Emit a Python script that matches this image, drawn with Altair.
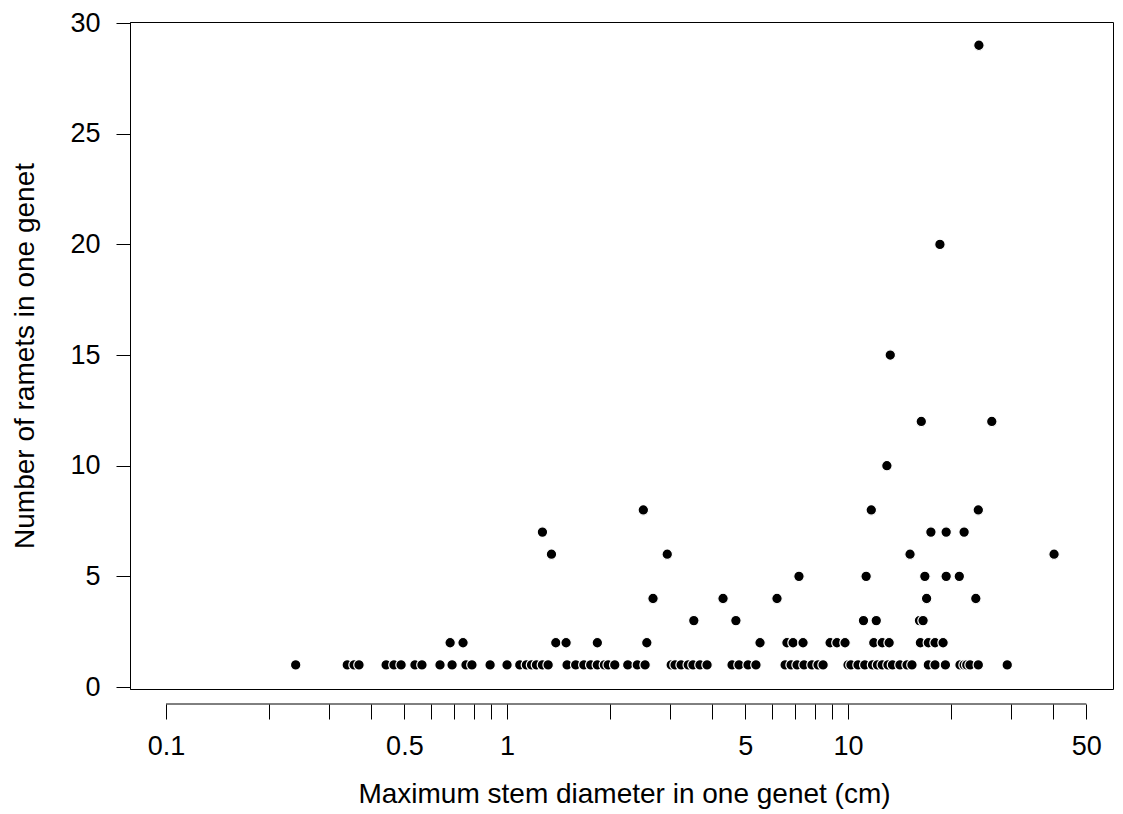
import altair as alt
import pandas as pd

# Maximum stem diameter (cm) of genets, grouped by number of ramets in the genet
diam_1_ramet = [0.24, 0.34, 0.356, 0.368, 0.442, 0.466, 0.489, 0.537, 0.563, 0.636,
                0.69, 0.758, 0.789, 0.892, 1.0, 1.09, 1.14, 1.18, 1.22, 1.27, 1.32,
                1.50, 1.59, 1.68, 1.76, 1.84, 1.93, 1.98, 2.07, 2.26, 2.41, 2.54,
                3.03, 3.11, 3.24, 3.40, 3.51, 3.68, 3.86, 4.57, 4.79, 5.09, 5.37,
                6.54, 6.81, 7.09, 7.43, 7.84, 8.17, 8.45, 10.0, 10.2, 10.7, 11.2,
                11.8, 12.2, 12.6, 13.1, 13.5, 14.2, 14.9, 15.4, 17.2, 18.0, 19.3,
                21.3, 21.9, 22.3, 22.8, 24.1, 29.3]
diam_2_ramets = [0.681, 0.743, 1.39, 1.49, 1.84, 2.57, 5.52, 6.62, 6.90, 7.38, 8.86,
                 9.28, 9.80, 11.9, 12.6, 13.2, 16.3, 17.2, 18.0, 19.0]
diam_3_ramets = [3.53, 4.69, 11.1, 12.1, 16.2, 16.6]
diam_4_ramets = [2.68, 4.30, 6.19, 17.0, 23.7]
diam_5_ramets = [7.18, 11.3, 16.8, 19.4, 21.2]
diam_6_ramets = [1.35, 2.95, 15.2, 40.2]
diam_7_ramets = [1.27, 17.5, 19.4, 21.9]
diam_8_ramets = [2.51, 11.7, 24.1]
diam_10_ramets = [13.0]
diam_12_ramets = [16.4, 26.4]
diam_15_ramets = [13.3]
diam_20_ramets = [18.6]
diam_29_ramets = [24.2]

groups = {1: diam_1_ramet, 2: diam_2_ramets, 3: diam_3_ramets, 4: diam_4_ramets,
          5: diam_5_ramets, 6: diam_6_ramets, 7: diam_7_ramets, 8: diam_8_ramets,
          10: diam_10_ramets, 12: diam_12_ramets, 15: diam_15_ramets,
          20: diam_20_ramets, 29: diam_29_ramets}

rows = []
for n, ds in groups.items():
    for d in ds:
        rows.append({"diameter": d, "ramets": n})
df = pd.DataFrame(rows)

x_tick_values = [0.1, 0.2, 0.3, 0.4, 0.5, 0.6, 0.7, 0.8, 0.9,
                 1, 2, 3, 4, 5, 6, 7, 8, 9, 10, 20, 30, 40, 50]
x_labelled = [0.1, 0.5, 1, 5, 10, 50]
y_tick_values = [0, 5, 10, 15, 20, 25, 30]

FONT = "Liberation Sans"
W, H = 983, 667

xscale = alt.Scale(type="log", domain=[0.0784, 59.85], nice=False)
yscale = alt.Scale(domain=[-0.09, 30.05], nice=False, zero=False)

points = alt.Chart(df).mark_point(
    shape="circle", filled=True, fill="black", stroke="white",
    strokeWidth=1.2, size=110, opacity=1
).encode(
    x=alt.X("diameter:Q", scale=xscale,
            axis=alt.Axis(
                values=x_tick_values,
                labelExpr="indexof([0.1, 0.5, 1, 5, 10, 50], datum.value) >= 0 ? format(datum.value, '~g') : ''",
                labelOverlap=False, labelFlush=False,
                domain=False, offset=15, tickSize=15, tickColor="black",
                tickWidth=1, labelPadding=14, labelFontSize=27, labelFont=FONT,
                labelColor="black", grid=False,
                title="Maximum stem diameter in one genet (cm)",
                titleFontSize=28, titleFont=FONT, titleFontWeight="normal",
                titleColor="black", titleBaseline="alphabetic", titleY=98,
                titleX=494)),
    y=alt.Y("ramets:Q", scale=yscale,
            axis=alt.Axis(
                values=y_tick_values, domain=True, domainColor="black",
                tickSize=14, tickColor="black", labelPadding=16,
                labelFontSize=27, labelFont=FONT, labelColor="black",
                grid=False, title="Number of ramets in one genet",
                titleFontSize=28, titleFont=FONT, titleFontWeight="normal",
                titleColor="black", titleAngle=-90, titleAlign="center",
                titleBaseline="alphabetic", titleX=-97, titleY=H / 2)),
)

axis_line = alt.Chart(pd.DataFrame({"a": [0.1], "b": [50]})).mark_rule(
    color="black", strokeWidth=1
).encode(
    x=alt.X("a:Q", scale=xscale),
    x2="b:Q",
    y=alt.value(H + 15),
)

chart = alt.layer(points, axis_line).properties(
    width=W, height=H,
    padding={"left": 122, "top": 14, "right": 2, "bottom": 120},
    autosize=alt.AutoSizeParams(type="none"),
    background="white",
).configure_view(stroke="black", strokeWidth=1)

chart.save("out.html", embed_options={"renderer": "svg", "actions": False})
